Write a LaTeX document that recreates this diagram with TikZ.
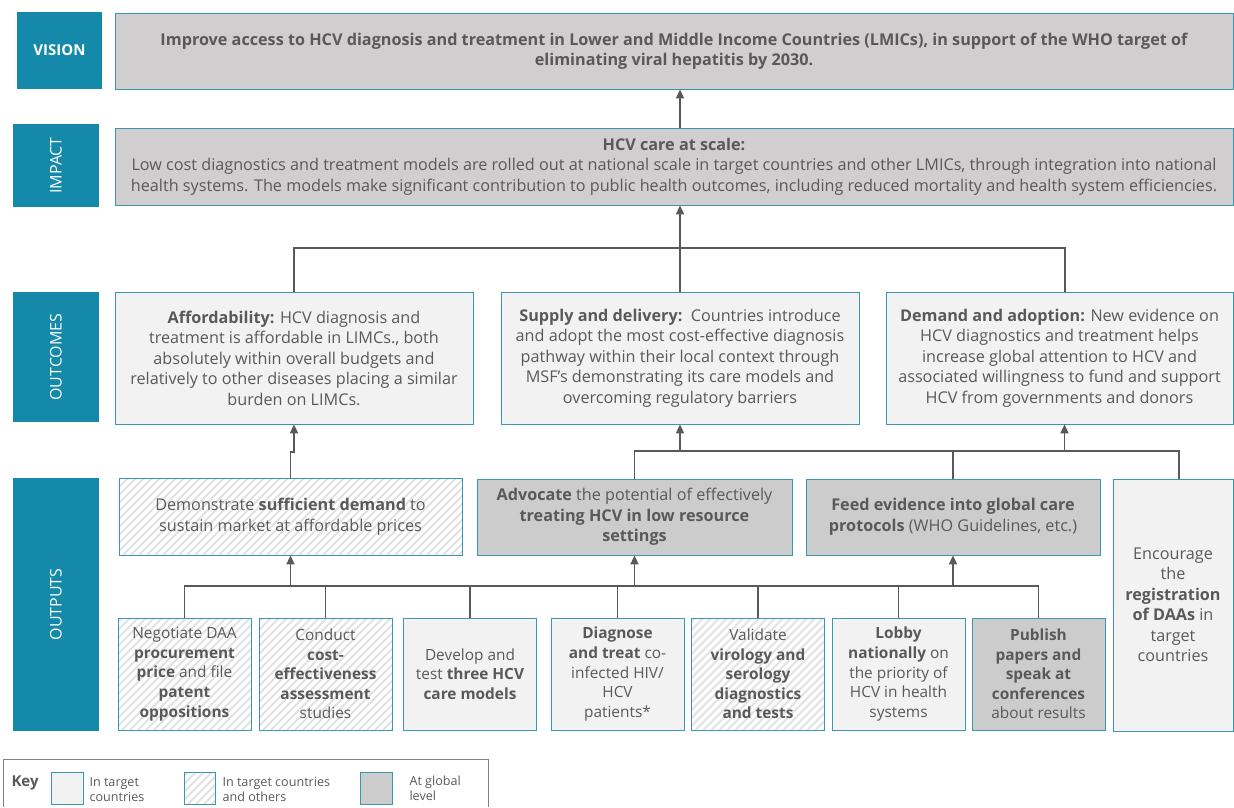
\documentclass[tikz,border=0pt]{standalone}
\usepackage{graphicx}
\usepackage{fontspec}
\setmainfont{Open Sans}
\usetikzlibrary{arrows.meta,positioning}
\definecolor{labteal}{HTML}{1589AA}
\definecolor{edgeteal}{HTML}{3A97B0}
\definecolor{lightfill}{HTML}{F2F2F2}
\definecolor{globalfill}{HTML}{CCCCCC}
\definecolor{topfill}{HTML}{D0CECF}
\definecolor{textgrey}{HTML}{595959}
\definecolor{hatchgrey}{HTML}{E2E2E2}
\newcommand\boxfont{\fontsize{16.2}{20.5}\selectfont}
\newcommand\smallboxfont{\fontsize{15.4}{19.6}\selectfont}
\newcommand\keyfont{\fontsize{12.6}{15}\selectfont}

\begin{document}
\begin{tikzpicture}[
  x=1pt, y=-1pt,
  lab/.style={fill=labteal, text=white, minimum width=86pt, inner sep=0pt, font=\fontsize{16}{19}\selectfont},
  box/.style={draw=edgeteal, line width=0.8pt, align=center, inner sep=0pt, text=textgrey, font=\boxfont},
  light/.style={box, fill=lightfill},
  global/.style={box, fill=globalfill},
  hatched/.style={box, fill=white, path picture={
      \coordinate (hsw) at (path picture bounding box.south west);
      \foreach \k in {0,...,62}
        \draw[hatchgrey, line width=2pt] ([xshift={\k*8pt-140pt}]hsw) -- ++(140pt,140pt);}},
  outbox/.style={minimum width=133pt, minimum height=112pt, font=\smallboxfont},
  conn/.style={draw=textgrey, line width=1.8pt},
  arr/.style={conn, -{Triangle[length=9pt, width=8pt]}}
]
\useasboundingbox (0,0) rectangle (1234,807);

\node[lab, minimum height=77pt, minimum width=85pt, font=\bfseries\fontsize{15}{18}\selectfont] (vislab) at (59.5,50.5) {VISION};
\node[lab, minimum height=83pt] (implab) at (56,165.5) {\rotatebox{90}{IMPACT}};
\node[lab, minimum height=130pt] (outlab) at (56,357) {\rotatebox{90}{OUTCOMES}};
\node[lab, minimum height=253pt] (optlab) at (56,604.5) {\rotatebox{90}{OUTPUTS}};

\node[box, fill=topfill, minimum width=1118pt, minimum height=76pt, font=\bfseries\boxfont] (vis) at (674,51)
  {Improve access to HCV diagnosis and treatment in Lower and Middle Income Countries (LMICs), in support of the WHO target of\\eliminating viral hepatitis by 2030.};
\node[box, fill=topfill, minimum width=1118pt, minimum height=77pt] (imp) at (674,166.5)
  {\textbf{HCV care at scale:}\\Low cost diagnostics and treatment models are rolled out at national scale in target countries and other LMICs, through integration into national\\health systems. The models make significant contribution to public health outcomes, including reduced mortality and health system efficiencies.};

\node[light, minimum width=358pt, minimum height=132pt] (aff) at (294,358)
  {\textbf{Affordability:} HCV diagnosis and\\treatment is affordable in LIMCs., both\\absolutely within overall budgets and\\relatively to other diseases placing a similar\\burden on LIMCs.};
\node[light, minimum width=358pt, minimum height=132pt] (sup) at (680,358)
  {\textbf{Supply and delivery:}\ \ Countries introduce\\and adopt the most cost-effective diagnosis\\pathway within their local context through\\MSF’s demonstrating its care models and\\overcoming regulatory barriers};
\node[light, minimum width=347pt, minimum height=132pt] (dem) at (1059.5,358)
  {\textbf{Demand and adoption:} New evidence on\\HCV diagnostics and treatment helps\\increase global attention to HCV and\\associated willingness to fund and support\\HCV from governments and donors};

\node[hatched, minimum width=343pt, minimum height=77pt] (dmo) at (290.5,516.5)
  {Demonstrate \textbf{sufficient demand} to\\sustain market at affordable prices};
\node[global, minimum width=315pt, minimum height=76pt] (adv) at (634.5,517)
  {\textbf{Advocate} the potential of effectively\\\textbf{treating HCV in low resource}\\\textbf{settings}};
\node[global, minimum width=294pt, minimum height=76pt] (feed) at (953,517)
  {\textbf{Feed evidence into global care}\\\textbf{protocols} (WHO Guidelines, etc.)};
\node[light, minimum width=120pt, minimum height=252pt] (enc) at (1173,605)
  {Encourage\\the\\\textbf{registration}\\\textbf{of DAAs} in\\target\\countries};

\node[hatched, outbox] (o1) at (184.5,674)
  {Negotiate DAA\\\textbf{procurement}\\\textbf{price} and file\\\textbf{patent}\\\textbf{oppositions}};
\node[hatched, outbox] (o2) at (325.5,674)
  {Conduct\\\textbf{cost-}\\\textbf{effectiveness}\\\textbf{assessment}\\studies};
\node[light, outbox] (o3) at (470,674)
  {Develop and\\test \textbf{three HCV}\\\textbf{care models}};
\node[light, outbox] (o4) at (617.5,674)
  {\textbf{Diagnose}\\\textbf{and treat} co-\\infected HIV/\\HCV\\patients*};
\node[hatched, outbox] (o5) at (758,674)
  {Validate\\\textbf{virology and}\\\textbf{serology}\\\textbf{diagnostics}\\\textbf{and tests}};
\node[light, outbox] (o6) at (898.5,674)
  {\textbf{Lobby}\\\textbf{nationally} on\\the priority of\\HCV in health\\systems};
\node[global, outbox] (o7) at (1038.5,674)
  {\textbf{Publish}\\\textbf{papers and}\\\textbf{speak at}\\\textbf{conferences}\\about results};

\coordinate (top) at (0,248);
\coordinate (mid) at (0,451);
\coordinate (low) at (0,586);
\coordinate (demtop) at ([xshift=5.5pt]dem.north);
\coordinate (dembot) at ([xshift=5pt]dem.south);
\coordinate (enctop) at ([xshift=6pt]enc.north);

\draw[arr] (sup.north |- imp.north) -- (sup.north |- vis.south);
\draw[arr] (sup.north) -- (sup.north |- imp.south);
\draw[conn] (aff.north) |- (top -| demtop) -- (demtop);

\draw[arr] (dmo.north) -- ++(0,-26) -| (aff.south);
\draw[conn] (adv.north) |- (mid -| enctop) -- (enctop);
\draw[conn] (feed.north) -- (feed.north |- mid);
\draw[arr] (sup.south |- mid) -- (sup.south);
\draw[arr] (dembot |- mid) -- (dembot);

\draw[conn] (o1.north) |- (low -| o7.north) -- (o7.north);
\foreach \n in {2,...,6}
  \draw[conn] (o\n.north) -- (o\n.north |- low);
\draw[arr] (dmo.south |- low) -- (dmo.south);
\draw[arr] (adv.south |- low) -- (adv.south);
\draw[arr] (feed.south |- low) -- (feed.south);

\draw[draw=gray, line width=0.8pt] (3,807) -- (3,759) -- (488,759) -- (488,807);
\node[anchor=west, text=textgrey, font=\bfseries\fontsize{15}{18}\selectfont] (keyt) at (8,783) {Key};
\node[light, minimum width=32pt, minimum height=32pt] (k1) at (67,788) {};
\node[anchor=west, align=left, text=textgrey, font=\keyfont] (k1t) at (86,789.5) {In target\\countries};
\node[hatched, minimum width=31pt, minimum height=32pt] (k2) at (199.5,788) {};
\node[anchor=west, align=left, text=textgrey, font=\keyfont] (k2t) at (219,789) {In target countries\\and others};
\node[global, minimum width=32pt, minimum height=32pt] (k3) at (376,788) {};
\node[anchor=west, align=left, text=textgrey, font=\keyfont] (k3t) at (406,788) {At global\\level};
\end{tikzpicture}
\end{document}
